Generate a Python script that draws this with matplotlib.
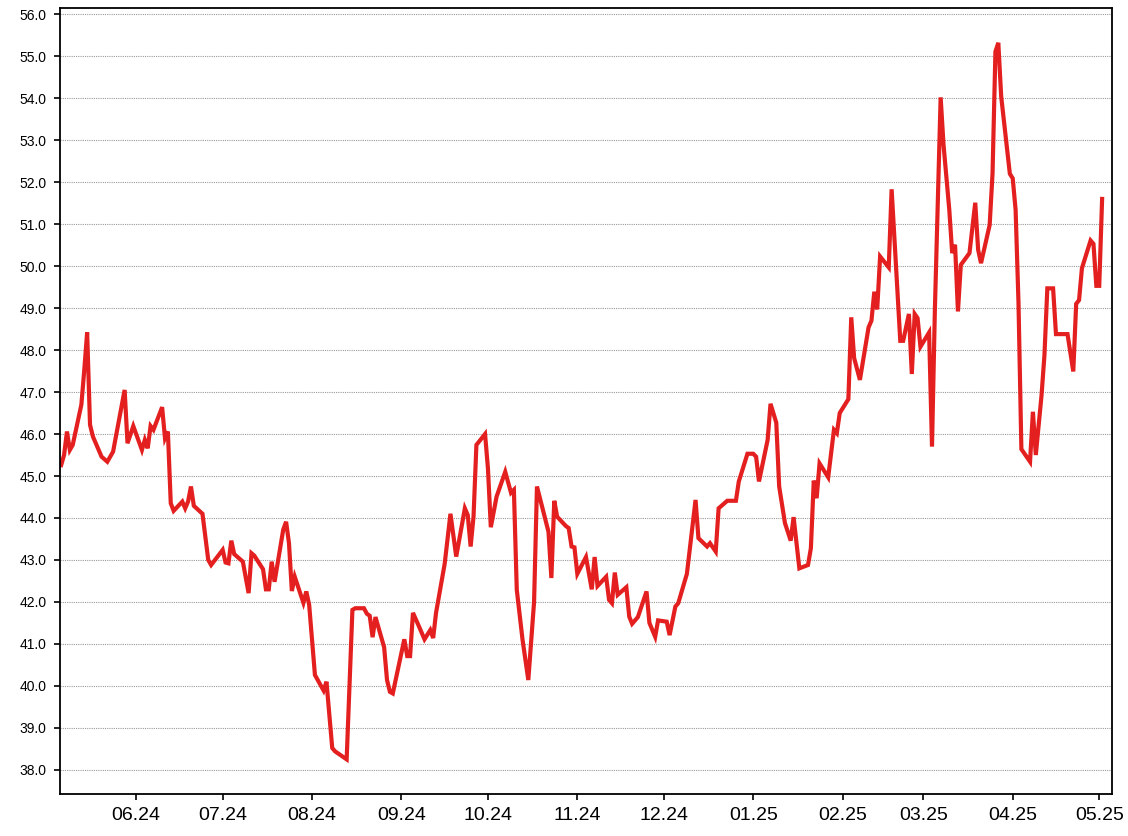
import pandas as pd
import matplotlib
matplotlib.use("Agg")
import matplotlib.pyplot as plt
import matplotlib.dates as mdates

plt.rcParams["font.family"] = ["Liberation Sans", "DejaVu Sans"]

dates = [
    "2024-05-06", "2024-05-07", "2024-05-08", "2024-05-09", "2024-05-10", "2024-05-13", "2024-05-14",
    "2024-05-15", "2024-05-16", "2024-05-17", "2024-05-20", "2024-05-22", "2024-05-24", "2024-05-28",
    "2024-05-29", "2024-05-31", "2024-06-03", "2024-06-04", "2024-06-05", "2024-06-06", "2024-06-07",
    "2024-06-10", "2024-06-11", "2024-06-12", "2024-06-13", "2024-06-14", "2024-06-17", "2024-06-18",
    "2024-06-19", "2024-06-20", "2024-06-21", "2024-06-24", "2024-06-26", "2024-06-27",
    "2024-07-01", "2024-07-02", "2024-07-03", "2024-07-04", "2024-07-05", "2024-07-08", "2024-07-10",
    "2024-07-11", "2024-07-12", "2024-07-15", "2024-07-16", "2024-07-17", "2024-07-18", "2024-07-19",
    "2024-07-22", "2024-07-23", "2024-07-24", "2024-07-25", "2024-07-26", "2024-07-29", "2024-07-30",
    "2024-07-31", "2024-08-02", "2024-08-05", "2024-08-06", "2024-08-08", "2024-08-09", "2024-08-13",
    "2024-08-15", "2024-08-16", "2024-08-19", "2024-08-20", "2024-08-21", "2024-08-22", "2024-08-23",
    "2024-08-26", "2024-08-27", "2024-08-28", "2024-08-29", "2024-09-02", "2024-09-03", "2024-09-04",
    "2024-09-05", "2024-09-07", "2024-09-09", "2024-09-11", "2024-09-12", "2024-09-13", "2024-09-16",
    "2024-09-18", "2024-09-20", "2024-09-23", "2024-09-24", "2024-09-25", "2024-09-26", "2024-09-27",
    "2024-09-30", "2024-10-01", "2024-10-02", "2024-10-04", "2024-10-07", "2024-10-09", "2024-10-10",
    "2024-10-11", "2024-10-13", "2024-10-15", "2024-10-17", "2024-10-18", "2024-10-22", "2024-10-23",
    "2024-10-24", "2024-10-25", "2024-10-28", "2024-10-29", "2024-10-30", "2024-10-31", "2024-11-01",
    "2024-11-04", "2024-11-06", "2024-11-07", "2024-11-08", "2024-11-11", "2024-11-12", "2024-11-13",
    "2024-11-14", "2024-11-15", "2024-11-18", "2024-11-19", "2024-11-20", "2024-11-22", "2024-11-25",
    "2024-11-26", "2024-11-28", "2024-11-29", "2024-12-02", "2024-12-03", "2024-12-05", "2024-12-06",
    "2024-12-09", "2024-12-12", "2024-12-13", "2024-12-16", "2024-12-17", "2024-12-19", "2024-12-20",
    "2024-12-23", "2024-12-26", "2024-12-27", "2024-12-30", "2025-01-01", "2025-01-02", "2025-01-03",
    "2025-01-06", "2025-01-07", "2025-01-09", "2025-01-10", "2025-01-12", "2025-01-14", "2025-01-15",
    "2025-01-17", "2025-01-20", "2025-01-21", "2025-01-22", "2025-01-23", "2025-01-24", "2025-01-27",
    "2025-01-29", "2025-01-30", "2025-01-31", "2025-02-03", "2025-02-04", "2025-02-05", "2025-02-07",
    "2025-02-10", "2025-02-11", "2025-02-12", "2025-02-13", "2025-02-14", "2025-02-17", "2025-02-18",
    "2025-02-21", "2025-02-22", "2025-02-24", "2025-02-25", "2025-02-26", "2025-02-27", "2025-02-28",
    "2025-03-03", "2025-03-04", "2025-03-05", "2025-03-07", "2025-03-08", "2025-03-10", "2025-03-11",
    "2025-03-12", "2025-03-13", "2025-03-14", "2025-03-17", "2025-03-19", "2025-03-20", "2025-03-21",
    "2025-03-24", "2025-03-25", "2025-03-26", "2025-03-27", "2025-03-28", "2025-03-31", "2025-04-01",
    "2025-04-02", "2025-04-03", "2025-04-04", "2025-04-07", "2025-04-08", "2025-04-09", "2025-04-11",
    "2025-04-12", "2025-04-13", "2025-04-15", "2025-04-16", "2025-04-19", "2025-04-20", "2025-04-22",
    "2025-04-23", "2025-04-24", "2025-04-25", "2025-04-28", "2025-04-29", "2025-04-30", "2025-05-01",
    "2025-05-02",
]

prices = [
    45.26, 45.50, 46.06, 45.62, 45.74, 46.70, 47.52,
    48.42, 46.22, 45.94, 45.46, 45.34, 45.58, 47.05,
    45.78, 46.19, 45.62, 45.86, 45.66, 46.19, 46.10,
    46.64, 45.90, 46.06, 44.35, 44.17, 44.39, 44.23,
    44.39, 44.75, 44.29, 44.10, 43.00, 42.88,
    43.24, 42.94, 42.92, 43.46, 43.14, 42.96, 42.21,
    43.16, 43.10, 42.78, 42.30, 42.30, 42.96, 42.48,
    43.72, 43.91, 43.40, 42.26, 42.60, 41.98, 42.25,
    41.93, 40.26, 39.89, 40.10, 38.52, 38.44, 38.25,
    41.81, 41.85, 41.85, 41.72, 41.67, 41.16, 41.64,
    40.92, 40.14, 39.86, 39.82, 41.11, 40.71, 40.71,
    41.74, 41.43, 41.11, 41.33, 41.14, 41.74, 42.91,
    44.10, 43.08, 44.23, 44.07, 43.32, 44.03, 45.74,
    46.00, 45.18, 43.78, 44.51, 45.10, 44.60, 44.67,
    42.29, 41.10, 40.14, 42.00, 44.75, 43.67, 42.57,
    44.41, 44.03, 43.81, 43.76, 43.32, 43.30, 42.67,
    43.07, 42.30, 43.07, 42.38, 42.60, 42.05, 41.97,
    42.70, 42.17, 42.35, 41.65, 41.48, 41.64, 42.25,
    41.50, 41.17, 41.56, 41.53, 41.21, 41.89, 41.97,
    42.67, 44.43, 43.52, 43.32, 43.40, 43.20, 44.23,
    44.41, 44.41, 44.87, 45.53, 45.53, 45.46, 44.87,
    45.86, 46.72, 46.27, 44.75, 43.88, 43.46, 44.02,
    42.80, 42.88, 43.28, 44.89, 44.47, 45.30, 44.97,
    46.10, 46.02, 46.50, 46.83, 48.78, 47.81, 47.29,
    48.54, 48.70, 49.39, 48.97, 50.23, 49.97, 51.83,
    48.22, 48.22, 48.86, 47.43, 48.86, 48.76, 48.08,
    48.42, 45.70, 48.96, 54.02, 52.89, 51.34, 50.31,
    50.51, 48.92, 50.03, 50.31, 51.51, 50.39, 50.07,
    50.98, 52.21, 55.11, 55.32, 54.04, 52.20, 52.09,
    51.34, 49.12, 45.64, 45.34, 46.53, 45.50, 46.93,
    47.88, 49.47, 49.47, 48.38, 48.38, 48.38, 47.49,
    49.10, 49.19, 49.95, 50.61, 50.53, 49.53, 49.53,
    51.60,
]

x_start = "2024-05-05 17:00"
x_end = "2025-05-05 12:00"
y_min, y_max = 37.42, 56.15

series = pd.Series(prices, index=pd.to_datetime(dates))

fig = plt.figure(figsize=(11.28, 8.36), dpi=100)
ax = fig.add_axes([0.0535, 0.050, 0.9325, 0.9405])

ax.plot(series.index, series.values, color="#e41f1f", linewidth=3.0, solid_joinstyle="miter")

ax.set_xlim(pd.Timestamp(x_start), pd.Timestamp(x_end))
ax.set_ylim(y_min, y_max)

ax.xaxis.set_major_locator(mdates.MonthLocator(bymonth=range(1, 13)))
ax.xaxis.set_major_formatter(mdates.DateFormatter("%m.%y"))
ax.set_yticks([38 + i for i in range(19)])
ax.yaxis.set_major_formatter(plt.FuncFormatter(lambda v, p: f"{v:.1f}"))

ax.yaxis.grid(True, color="#9a9a9a", linestyle=(0, (1, 1)), linewidth=0.8)
ax.set_axisbelow(True)

ax.tick_params(axis="y", labelsize=10, length=4, width=1.2, pad=6, direction="out")
ax.tick_params(axis="x", labelsize=14, length=4, width=1.2, pad=5, direction="out")
for s in ax.spines.values():
    s.set_linewidth(1.3)
    s.set_color("black")

fig.savefig("out.png", dpi=100)
